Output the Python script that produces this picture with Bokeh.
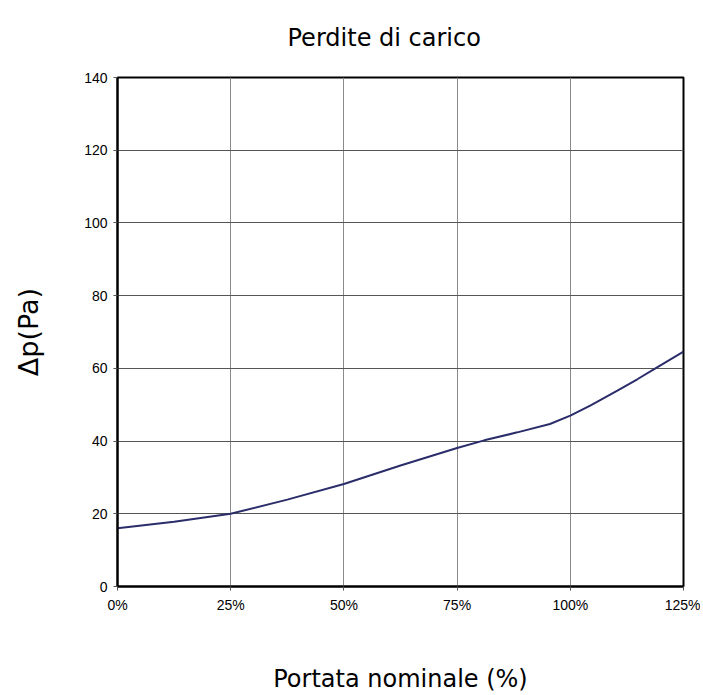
from bokeh.plotting import figure
from bokeh.models import Range1d, FixedTicker
from bokeh.embed import file_html
from bokeh.resources import INLINE

# data
flow_pct = [0, 12.5, 25, 37.5, 50, 62.5, 75, 81, 88.3, 95.5, 100, 104.5, 110.4, 114.8, 118.8, 125]
dp_pa = [16.0, 17.8, 20.0, 23.9, 28.2, 33.3, 38.1, 40.2, 42.4, 44.7, 47.0, 49.8, 53.9, 57.0, 60.0, 64.6]
x_ticks = [0, 25, 50, 75, 100, 125]
x_tick_labels = ["0%", "25%", "50%", "75%", "100%", "125%"]
y_ticks = [0, 20, 40, 60, 80, 100, 120, 140]

W, H = 700, 695
p = figure(width=W, height=H, output_backend="svg", toolbar_location=None,
           x_range=Range1d(0, 125), y_range=Range1d(0, 140),
           min_border_left=117, min_border_right=17, min_border_top=77, min_border_bottom=109,
           title="Perdite di carico")

p.title.align = "left"
p.title.offset = 170
p.title.vertical_align = "top"
p.title.text_font = "DejaVu Sans"
p.title.text_font_style = "normal"
p.title.text_font_size = "24px"
p.title.text_color = "black"
p.title.standoff = 47

p.line(flow_pct, dp_pa, line_color="#2b2d6b", line_width=2)

p.xaxis.ticker = FixedTicker(ticks=x_ticks)
p.xaxis.major_label_overrides = {t: l for t, l in zip(x_ticks, x_tick_labels)}
p.yaxis.ticker = FixedTicker(ticks=y_ticks)
for ax in (p.xaxis, p.yaxis):
    ax.axis_line_color = "black"
    ax.axis_line_width = 2
    ax.major_tick_in = 0
    ax.major_tick_out = 4
    ax.major_tick_line_color = "#555555"
    ax.minor_tick_line_color = None
    ax.major_label_text_font = "Liberation Sans"
    ax.major_label_text_font_size = "14px"
    ax.major_label_text_color = "black"
    ax.axis_label_text_font = "DejaVu Sans"
    ax.axis_label_text_font_style = "normal"
    ax.axis_label_text_color = "black"
p.yaxis.major_label_standoff = 6
p.xaxis.major_label_standoff = 6

p.xaxis.axis_label = "Portata nominale (%)"
p.xaxis.axis_label_text_font_size = "24px"
p.xaxis.axis_label_standoff = 49
p.yaxis.axis_label = "Δp(Pa)"
p.yaxis.axis_label_text_font_size = "27px"
p.yaxis.axis_label_standoff = 37

p.xgrid.grid_line_color = "#8a8a8a"
p.ygrid.grid_line_color = "#555555"
p.xgrid.grid_line_width = 1
p.ygrid.grid_line_width = 1

p.outline_line_color = "black"
p.outline_line_width = 2
p.outline_line_alpha = 1

open("out.html", "w").write(file_html(p, INLINE))
